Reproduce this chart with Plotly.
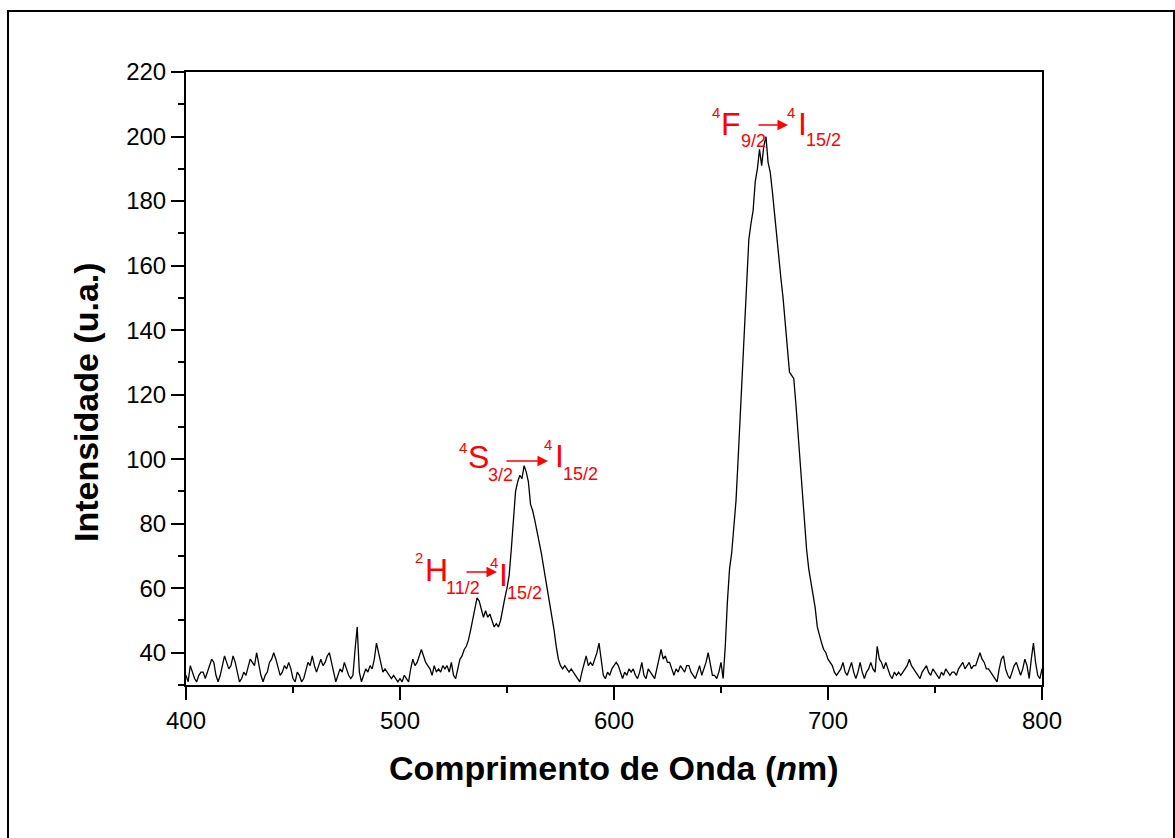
import plotly.graph_objects as go

# ---------------- data ----------------
wl_start = 400
intensity = [
    # 400-409
    33, 31, 36, 34, 32, 31, 33, 34, 34, 32,
    # 410-419
    34, 36, 38, 37, 33, 31, 33, 36, 39, 37,
    # 420-429
    35, 36, 39, 37, 34, 31, 32, 34, 33, 36,
    # 430-439
    38, 37, 36, 40, 36, 33, 31, 33, 34, 37,
    # 440-449
    38, 40, 38, 35, 33, 34, 36, 35, 37, 35,
    # 450-459
    32, 31, 34, 33, 31, 32, 35, 37, 36, 39,
    # 460-469
    36, 34, 36, 38, 36, 37, 39, 40, 37, 34,
    # 470-479
    31, 33, 35, 34, 37, 35, 33, 32, 33, 41,
    # 480-489
    48, 34, 31, 33, 35, 34, 36, 35, 38, 43,
    # 490-499
    40, 36, 34, 35, 34, 33, 32, 33, 32, 31,
    # 500-509
    32, 31, 33, 32, 31, 35, 38, 36, 37, 39,
    # 510-519
    41, 39, 37, 36, 35, 33, 36, 34, 35, 34,
    # 520-529
    36, 35, 36, 34, 37, 33, 32, 35, 38, 39,
    # 530-539
    41, 42, 44, 47, 50, 54, 57, 56, 53, 51,
    # 540-549
    53, 51, 52, 50, 48, 49, 48, 50, 54, 57,
    # 550-559
    60, 64, 72, 82, 90, 93, 95, 94, 98, 96,
    # 560-569
    93, 86, 84, 81, 78, 75, 71, 67, 63, 60,
    # 570-579
    56, 52, 47, 42, 38, 36, 35, 36, 35, 34,
    # 580-589
    35, 34, 33, 32, 31, 34, 37, 39, 36, 37,
    # 590-599
    36, 38, 40, 43, 38, 33, 32, 34, 33, 35,
    # 600-609
    36, 37, 36, 34, 32, 34, 33, 35, 34, 35,
    # 610-619
    33, 32, 34, 37, 33, 32, 35, 34, 33, 32,
    # 620-629
    35, 38, 41, 38, 39, 37, 37, 35, 33, 35,
    # 630-639
    34, 36, 35, 34, 36, 36, 34, 33, 32, 34,
    # 640-649
    36, 33, 35, 37, 40, 37, 33, 33, 32, 34,
    # 650-659
    37, 32, 42, 56, 66, 71, 78, 87, 100, 113,
    # 660-669
    128, 140, 152, 168, 173, 177, 186, 190, 196, 191,
    # 670-679
    197, 200, 192, 189, 183, 176, 169, 161, 156, 150,
    # 680-689
    142, 134, 127, 126, 125, 117, 108, 99, 88, 79,
    # 690-699
    72, 66, 62, 58, 54, 48, 45, 43, 41, 40,
    # 700-709
    38, 37, 36, 34, 33, 34, 35, 37, 34, 33,
    # 710-719
    35, 37, 34, 32, 34, 37, 34, 32, 34, 35,
    # 720-729
    37, 35, 34, 42, 38, 37, 35, 37, 35, 33,
    # 730-739
    32, 34, 33, 34, 33, 34, 35, 36, 38, 36,
    # 740-749
    35, 34, 33, 32, 34, 35, 36, 34, 33, 35,
    # 750-759
    34, 33, 32, 34, 33, 35, 34, 33, 34, 34,
    # 760-769
    33, 35, 36, 37, 35, 36, 37, 35, 36, 36,
    # 770-779
    38, 40, 38, 37, 35, 35, 34, 33, 32, 31,
    # 780-789
    35, 38, 39, 35, 33, 32, 34, 36, 37, 35,
    # 790-799
    33, 35, 38, 36, 32, 38, 43, 37, 33, 32,
    # 800
    35,
]
wavelength = [wl_start + i for i in range(len(intensity))]

x_ticks = [400, 500, 600, 700, 800]
y_ticks = [40, 60, 80, 100, 120, 140, 160, 180, 200, 220]
x_range = [400, 800]
y_range = [30, 220]

x_title = "Comprimento de Onda (<i>n</i>m)"
y_title = "Intensidade (u.a.)"

# transition labels: (superscript, letter, subscript) pairs
labels = [
    {"a": ("2", "H", "11/2"), "b": ("4", "I", "15/2")},
    {"a": ("4", "S", "3/2"), "b": ("4", "I", "15/2")},
    {"a": ("4", "F", "9/2"), "b": ("4", "I", "15/2")},
]

# ---------------- layout geometry (pixels) ----------------
W, H = 1175, 838
L, R, T, B = 186, 1042, 72, 685
PW, PH = R - L, B - T


def dx(px):
    return x_range[0] + (px - L) / PW * (x_range[1] - x_range[0])


def dy(py):
    return y_range[1] - (py - T) / PH * (y_range[1] - y_range[0])


def paper_x(px):
    return (px - L) / PW


def paper_y(py):
    return (B - py) / PH


FONT = "Liberation Sans, Arial, sans-serif"
RED = "#ff0000"

fig = go.Figure()
fig.add_trace(go.Scatter(
    x=wavelength, y=intensity, mode="lines",
    line=dict(color="black", width=1.3), hoverinfo="skip", showlegend=False,
))

annotations = []

# glyph placement (pixel centres) for each label
glyph_pos = [
    # label H
    {"sa": (418.5, 557), "la": (436, 570), "ba": (463, 588),
     "sb": (493.5, 562), "lb": (503.5, 575), "bb": (524, 593),
     "arrow": (465, 497, 572)},
    # label S
    {"sa": (462.5, 447.5), "la": (478.5, 457), "ba": (500, 474.5),
     "sb": (548, 444), "lb": (559, 455.5), "bb": (580, 473.5),
     "arrow": (505, 548, 461)},
    # label F
    {"sa": (715.5, 112.5), "la": (731, 124), "ba": (753.5, 141),
     "sb": (791, 112.5), "lb": (802, 123.5), "bb": (823.5, 140),
     "arrow": (757, 788, 125)},
]

for lab, pos in zip(labels, glyph_pos):
    for side in ("a", "b"):
        sup, letter, sub = lab[side]
        for key, txt, size in ((f"s{side}", sup, 15), (f"l{side}", letter, 32), (f"b{side}", sub, 18)):
            px, py = pos[key]
            annotations.append(dict(
                x=dx(px), y=dy(py), xref="x", yref="y", text=txt, showarrow=False,
                xanchor="center", yanchor="middle", borderpad=0,
                font=dict(family=FONT, size=size, color=RED),
            ))
    x0, x1, ya = pos["arrow"]
    annotations.append(dict(
        x=dx(x1), y=dy(ya), ax=dx(x0), ay=dy(ya), xref="x", yref="y",
        axref="x", ayref="y", text="", showarrow=True,
        arrowhead=2, arrowsize=1.4, arrowwidth=1.5, arrowcolor=RED, standoff=0,
    ))

# axis titles
annotations.append(dict(
    x=paper_x(614), y=paper_y(768), xref="paper", yref="paper", text=f"<b>{x_title}</b>",
    showarrow=False, xanchor="center", yanchor="middle",
    font=dict(family=FONT, size=34, color="black"),
))
annotations.append(dict(
    x=paper_x(86), y=paper_y(402), xref="paper", yref="paper", text=f"<b>{y_title}</b>",
    showarrow=False, xanchor="center", yanchor="middle", textangle=-90,
    font=dict(family=FONT, size=34, color="black"),
))

fig.update_layout(
    width=W, height=H,
    margin=dict(l=L, r=W - R, t=T, b=H - B, pad=0),
    paper_bgcolor="white", plot_bgcolor="white",
    font=dict(family=FONT, color="black"),
    annotations=annotations,
    shapes=[dict(
        type="rect", xref="paper", yref="paper",
        x0=paper_x(8), x1=paper_x(1174), y0=paper_y(11), y1=paper_y(850),
        line=dict(color="black", width=2), fillcolor="rgba(0,0,0,0)", layer="below",
    )],
    showlegend=False,
)

fig.update_xaxes(
    range=x_range, tickvals=x_ticks, ticktext=[str(v) for v in x_ticks],
    showgrid=False, zeroline=False, showline=True, linecolor="black", linewidth=2,
    mirror=True, ticks="outside", ticklen=13, tickwidth=2, tickcolor="black",
    tickfont=dict(family=FONT, size=24, color="black"),
    minor=dict(dtick=50, tick0=0, ticks="outside", ticklen=6, tickwidth=2, tickcolor="black"),
)
fig.update_yaxes(
    range=y_range, tickvals=y_ticks, ticktext=[str(v) for v in y_ticks],
    showgrid=False, zeroline=False, showline=True, linecolor="black", linewidth=2,
    mirror=True, ticks="outside", ticklen=13, tickwidth=2, tickcolor="black",
    tickfont=dict(family=FONT, size=24, color="black"),
    minor=dict(dtick=10, tick0=0, ticks="outside", ticklen=6, tickwidth=2, tickcolor="black"),
)

fig.write_html("out.html")
